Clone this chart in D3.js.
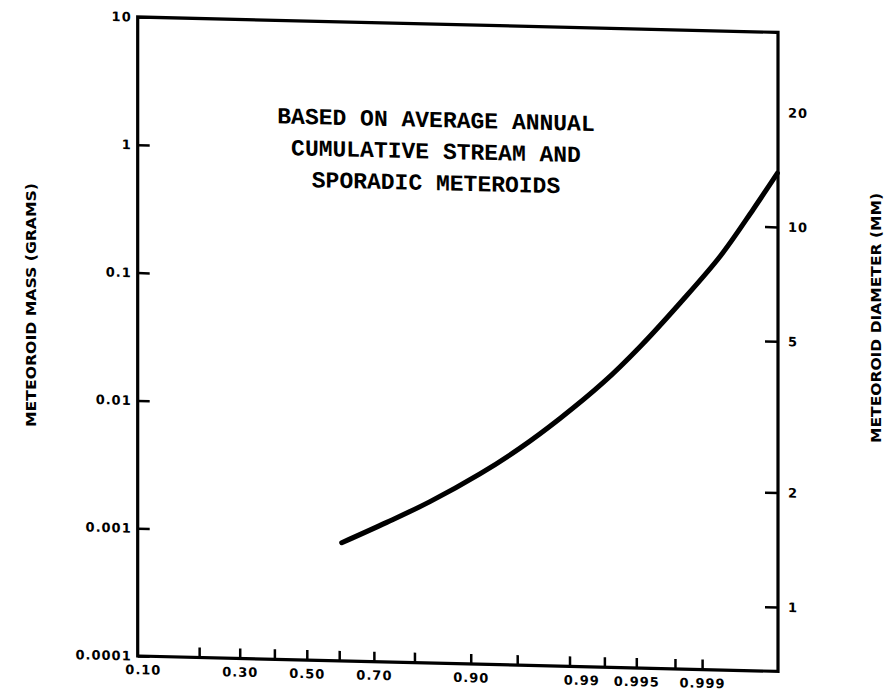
<!DOCTYPE html>
<html>
<head>
<meta charset="utf-8">
<script src="https://cdn.jsdelivr.net/npm/d3@7"></script>
<style>
  body { margin: 0; background: #fff; }
  svg { display: block; }
  .tick text { font-family: "DejaVu Sans", sans-serif; font-weight: bold; fill: #000; }
</style>
</head>
<body>
<svg width="889" height="696"></svg>
<script>
// values
const massTicks = [10, 1, 0.1, 0.01, 0.001, 0.0001];
const diamTicks = [1, 2, 5, 10];
const diamLabels = [1, 2, 5, 10, 20];
const probTicks = [0.2, 0.3, 0.4, 0.5, 0.6, 0.7, 0.8, 0.9, 0.95, 0.98, 0.99, 0.995, 0.998, 0.999];
const probLabels = [0.10, 0.30, 0.50, 0.70, 0.90, 0.99, 0.995, 0.999];
const probLabelText = ["0.10", "0.30", "0.50", "0.70", "0.90", "0.99", "0.995", "0.999"];

const probDomain = [0.0931, 0.999885];
const massDomain = [0.0001, 10];
const diamDomain = [0.677, 32.5];

const curveProb = [0.6076, 0.734, 0.8322, 0.912, 0.9522, 0.9761, 0.98978, 0.99543, 0.99825, 0.999388, 0.999759, 0.999883];
const curveMass = [0.000841, 0.001237, 0.001832, 0.003083, 0.004989, 0.00866, 0.01689, 0.03284, 0.07348, 0.1736, 0.4091, 0.791];

const note = ["BASED ON AVERAGE ANNUAL", "CUMULATIVE STREAM AND", "SPORADIC METEROIDS"];

const svg = d3.select("svg");
const x0 = 137.7, x1 = 778, y0 = 17, y1 = 656;

// inverse normal cdf (Acklam), for the probability-paper x axis
function probit(p) {
  const a = [-39.69683028665376, 220.9460984245205, -275.9285104469687, 138.3577518672690, -30.66479806614716, 2.506628277459239];
  const b = [-54.47609879822406, 161.5858368580409, -155.6989798598866, 66.80131188771972, -13.28068155288572];
  const c = [-0.007784894002430293, -0.3223964580411365, -2.400758277161838, -2.549732539343734, 4.374664141464968, 2.938163982698783];
  const d = [0.007784695709041462, 0.3224671290700398, 2.445134137142996, 3.754408661907416];
  const pl = 0.02425;
  let q, r;
  if (p < pl) {
    q = Math.sqrt(-2 * Math.log(p));
    return (((((c[0]*q+c[1])*q+c[2])*q+c[3])*q+c[4])*q+c[5]) / ((((d[0]*q+d[1])*q+d[2])*q+d[3])*q+1);
  }
  if (p > 1 - pl) {
    q = Math.sqrt(-2 * Math.log(1 - p));
    return -(((((c[0]*q+c[1])*q+c[2])*q+c[3])*q+c[4])*q+c[5]) / ((((d[0]*q+d[1])*q+d[2])*q+d[3])*q+1);
  }
  q = p - 0.5; r = q * q;
  return (((((a[0]*r+a[1])*r+a[2])*r+a[3])*r+a[4])*r+a[5])*q / (((((b[0]*r+b[1])*r+b[2])*r+b[3])*r+b[4])*r+1);
}

const xz = d3.scaleLinear().domain(probDomain.map(probit)).range([x0, x1]);
const px = p => xz(probit(p));
const y = d3.scaleLog().domain(massDomain).range([y1, y0]);
const yd = d3.scaleLog().domain(diamDomain).range([y1, y0]);

// the scan is slightly sheared: horizontals drop toward the right
const k = 0.024;
const g = svg.append("g")
  .attr("transform", `translate(0,${-k * x0}) skewY(${Math.atan(k) * 180 / Math.PI})`);

// left axis
g.append("g")
  .attr("transform", `translate(${x0},0)`)
  .call(d3.axisLeft(y).tickValues(massTicks).tickSize(-12).tickPadding(6).tickFormat(d => String(d)));

// right axis
const gr = g.append("g")
  .attr("transform", `translate(${x1},0)`)
  .call(d3.axisRight(yd).tickValues(diamLabels).tickSize(-13).tickPadding(10).tickFormat(d => String(d)));
gr.selectAll(".tick").filter(d => !diamTicks.includes(d)).select("line").remove();

// bottom ticks and labels
g.append("g")
  .attr("transform", `translate(0,${y1})`)
  .call(d3.axisBottom(xz).tickValues(probTicks.map(probit)).tickSize(-10).tickFormat(""));
const gbl = g.append("g")
  .attr("transform", `translate(0,${y1})`)
  .call(d3.axisBottom(xz).tickValues(probLabels.map(probit)).tickSize(0).tickPadding(9)
    .tickFormat((d, i) => probLabelText[i]));

g.selectAll(".domain").remove();
g.selectAll(".tick line").attr("stroke", "#000").attr("stroke-width", 2.5);
g.selectAll(".tick text").attr("font-size", 13).attr("letter-spacing", 1);
gbl.selectAll(".tick line").remove();

// crowded labels at the top end: push them apart leftwards, as the typist did
const labs = gbl.selectAll(".tick").nodes().map(n => ({
  node: d3.select(n).select("text"),
  cx: xz(n.__data__),
  w: d3.select(n).select("text").node().getComputedTextLength()
}));
for (let i = labs.length - 2; i >= 0; i--) {
  const next = labs[i + 1];
  const maxRight = next.cx - next.w / 2 - 14;
  if (labs[i].cx + labs[i].w / 2 > maxRight) {
    const shift = labs[i].cx + labs[i].w / 2 - maxRight;
    labs[i].cx -= shift;
    labs[i].node.attr("dx", -shift);
  }
}

// frame
g.append("path")
  .attr("d", `M${x0},${y0}H${x1}V${y1}H${x0}Z`)
  .attr("fill", "none")
  .attr("stroke", "#000")
  .attr("stroke-width", 3.2);

// curve
const line = d3.line()
  .x(d => px(d[0]))
  .y(d => y(d[1]))
  .curve(d3.curveCatmullRom);

g.append("path")
  .datum(d3.zip(curveProb, curveMass))
  .attr("d", line)
  .attr("fill", "none")
  .attr("stroke", "#000")
  .attr("stroke-width", 5)
  .attr("stroke-linecap", "round");

// typed note
g.append("g")
  .selectAll("text")
  .data(note)
  .join("text")
  .attr("x", 436)
  .attr("y", (d, i) => 120 + i * 31.5)
  .attr("text-anchor", "middle")
  .attr("font-family", "'Courier New', Courier, 'Nimbus Mono PS', FreeMono, 'Liberation Mono', monospace")
  .attr("font-weight", "bold")
  .attr("font-size", 23)
  .text(d => d);

// axis titles
svg.append("text")
  .attr("transform", "translate(36,305) rotate(-90)")
  .attr("text-anchor", "middle")
  .attr("font-family", "DejaVu Sans Condensed, DejaVu Sans, sans-serif")
  .attr("font-weight", "bold")
  .attr("font-size", 14)
  .attr("textLength", 244)
  .attr("lengthAdjust", "spacingAndGlyphs")
  .text("METEOROID MASS (GRAMS)");

svg.append("text")
  .attr("transform", "translate(881,318) rotate(-90)")
  .attr("text-anchor", "middle")
  .attr("font-family", "DejaVu Sans Condensed, DejaVu Sans, sans-serif")
  .attr("font-weight", "bold")
  .attr("font-size", 14)
  .attr("textLength", 250)
  .attr("lengthAdjust", "spacingAndGlyphs")
  .text("METEOROID DIAMETER (MM)");
</script>
</body>
</html>
